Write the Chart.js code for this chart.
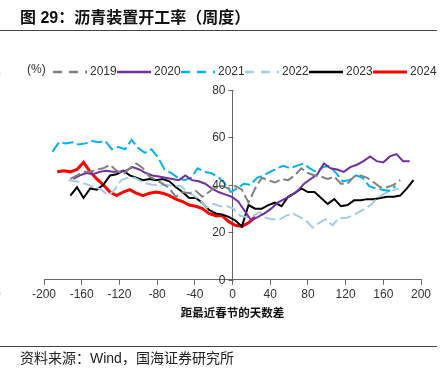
<!DOCTYPE html>
<html>
<head>
<meta charset="utf-8">
<script src="https://cdn.jsdelivr.net/npm/chart.js@4/dist/chart.umd.min.js"></script>
<style>
  body { margin: 0; background: #fff; }
  #wrap { position: relative; width: 446px; height: 375px; overflow: hidden; }
  #chart { position: absolute; left: 0; top: 0; }
  .title { position: absolute; left: 20px; top: 7px; font: bold 16px "Liberation Sans", "Noto Sans CJK SC", sans-serif; color: #111; white-space: nowrap; line-height: 22px; }
  .rule { position: absolute; left: 0; width: 437px; height: 1px; background: #444; }
  .src { position: absolute; left: 20px; top: 349px; font: 14px "Liberation Sans", "Noto Sans CJK SC", sans-serif; color: #222; white-space: nowrap; line-height: 18px; }
  .edge { position: absolute; font: 12px "Liberation Sans", sans-serif; color: #333; }
</style>
</head>
<body>
<div id="wrap">
  <canvas id="chart" width="446" height="375"></canvas>
  <div class="title">图 29：沥青装置开工率（周度）</div>
  <div class="rule" style="top:30px"></div>
  <div class="edge" style="left:-6px; top:65px; color:#00B0F0">4</div>
  <div class="edge" style="left:-6px; top:287px">0</div>
  <div class="rule" style="top:346px"></div>
  <div class="src">资料来源：Wind，国海证券研究所</div>
</div>
<script>
// days from the nearest Spring Festival, weekly readings (%)
const years = ["2019", "2020", "2021", "2022", "2023", "2024"];

const start2019 = -172;
const rate2019 = [42.5, 44, 45.5, 45.5, 46.5, 47, 48.5, 46, 44.5, 47,
  49, 47, 43.5, 42, 40.5, 38.5, 35, 37, 36.5, 37.5,
  35, 37, 39, 39.5, 38.5, 39.5, 38, 32.5, 38.5, 43,
  42, 41, 42.5, 42, 44, 47, 45, 44, 43.5, 42.5,
  43.5, 40.5, 40.5, 43.5, 44, 43, 41, 39, 39, 40, 42];

const start2020 = -169;
const rate2020 = [42.5, 44, 45, 44.5, 45.5, 46, 45.5, 45.5, 46, 47.5,
  46.5, 45, 44, 43.5, 43, 42.5, 42, 44, 42, 41.5,
  40.5, 38.5, 37, 36, 35, 33, 29, 25, 26.5, 28,
  30, 32.5, 34, 35.5, 37.5, 40.5, 42.5, 44.5, 49, 47,
  46.5, 45.5, 47.5, 48.5, 50, 52, 50, 49.5, 52, 53, 50, 50];

const start2021 = -191;
const rate2021 = [54, 58, 57.5, 58, 57, 57.5, 58.5, 58, 58.5, 55,
  56, 55, 59, 55.5, 53.5, 55, 51.5, 46.5, 45, 43,
  42, 43, 47, 45.5, 45, 43.5, 41, 37, 38.5, 40.5,
  40, 43, 44, 45.5, 47, 48, 47, 48, 49, 47,
  45.5, 47.5, 48, 45, 41.5, 42, 44, 43, 39.5, 38.5,
  38, 37.5, 39.5];

const start2022 = -174;
const rate2022 = [42, 41.5, 41, 40, 39, 38, 35.5, 38, 42, 43,
  43, 41.5, 40.5, 40, 40, 40, 39.5, 39.5, 37, 35.5,
  33.5, 30.5, 32, 31, 31, 30, 27, 26.5, 27, 28.5,
  26, 25.5, 25.5, 27, 28, 26.5, 25, 22, 24, 25.5,
  23, 26, 26, 27, 28.5, 30, 32, 35, 36.5, 37.5, 38.5];

const start2023 = -172;
const rate2023 = [35.5, 39, 34.5, 38.5, 38, 40, 44, 44.5, 46, 44,
  43, 42, 42.5, 42, 42.5, 41.5, 39, 37, 34.5, 34.5,
  32.5, 29.5, 28, 27.5, 26.5, 25, 22.5, 31.5, 30, 30,
  31.5, 32.5, 31, 35, 36.5, 38.5, 37, 37, 34.5, 32,
  34, 31, 31.5, 33.5, 33.5, 34, 34, 34.5, 35, 35,
  35.5, 38.5, 42];

const start2024 = -186;
const rate2024 = [45.5, 46, 45.5, 46.5, 49.5, 45.5, 42.5, 40, 37, 35.5,
  37, 38, 36.5, 35.5, 36.5, 37, 36.5, 35.5, 34, 33,
  31.5, 31, 30, 28, 27, 27, 24.5, 23, 22.5, 24, 26.5];

const xTicks = [-200, 200, 40];   // min, max, step
const yTicks = [0, 80, 20];

function weekly(start, values) {
  return values.map((v, i) => ({ x: start + 7 * i, y: v }));
}

const font = '"Liberation Sans", Arial, sans-serif';
Chart.defaults.font.family = font;
Chart.defaults.font.size = 12;
Chart.defaults.color = "#333";

function line(label, data, color, dashed, width) {
  return {
    label: label,
    data: data,
    borderColor: color,
    backgroundColor: color,
    borderWidth: width || 2,
    borderDash: dashed ? [11, 4] : [],
    pointRadius: 0,
    tension: 0,
    fill: false
  };
}

// legend row drawn by hand so it can start left of the plot like the original
const legendRow = {
  id: "legendRow",
  afterDraw(chart) {
    const ctx = chart.ctx;
    ctx.save();
    ctx.font = "12px " + font;
    ctx.fillStyle = "#333";
    ctx.textBaseline = "middle";
    ctx.fillText("(%)", 27, 70);
    chart.data.datasets.forEach((ds, i) => {
      const x = 53 + 64 * i;
      const y = 72;
      ctx.beginPath();
      ctx.setLineDash(ds.borderDash.length ? [9, 7] : []);
      ctx.strokeStyle = ds.borderColor;
      ctx.lineWidth = ds.borderWidth > 2 ? 3 : 2.5;
      ctx.moveTo(x, y);
      ctx.lineTo(x + 34, y);
      ctx.stroke();
      ctx.setLineDash([]);
      ctx.fillText(ds.label, x + 37, y);
    });
    ctx.restore();
  }
};

// the value axis sits at day 0; put its ticks and labels on the left side of it
const yAxisLeft = {
  id: "yAxisLeft",
  afterDraw(chart) {
    const xs = chart.scales.x;
    const ys = chart.scales.y;
    const ax = Math.round(xs.getPixelForValue(0)) + 0.5;
    const ctx = chart.ctx;
    ctx.save();
    ctx.strokeStyle = "#666";
    ctx.lineWidth = 1;
    ctx.font = "12px " + font;
    ctx.fillStyle = "#333";
    ctx.textAlign = "right";
    ctx.textBaseline = "middle";
    ys.ticks.forEach(t => {
      const y = Math.round(ys.getPixelForValue(t.value)) + 0.5;
      ctx.beginPath();
      ctx.moveTo(ax - 5, y);
      ctx.lineTo(ax, y);
      ctx.stroke();
      ctx.fillText(t.label, ax - 8, y);
    });
    ctx.restore();
  }
};

new Chart(document.getElementById("chart"), {
  type: "line",
  data: {
    datasets: [
      line(years[0], weekly(start2019, rate2019), "#808080", true),
      line(years[1], weekly(start2020, rate2020), "#7030A0", false),
      line(years[2], weekly(start2021, rate2021), "#00B0F0", true),
      line(years[3], weekly(start2022, rate2022), "#A3CDE4", true),
      line(years[4], weekly(start2023, rate2023), "#000000", false),
      line(years[5], weekly(start2024, rate2024), "#FF0000", false, 3)
    ]
  },
  options: {
    responsive: false,
    animation: false,
    layout: {
      padding: { left: 44, right: 25, top: 90, bottom: 48 }
    },
    plugins: {
      legend: { display: false },
      tooltip: { enabled: false }
    },
    scales: {
      x: {
        type: "linear",
        min: xTicks[0],
        max: xTicks[1],
        ticks: { stepSize: xTicks[2], color: "#333", padding: 3 },
        grid: { drawOnChartArea: false, tickLength: 5, color: "#666" },
        border: { color: "#666" },
        title: {
          display: true,
          text: "距最近春节的天数差",
          color: "#111",
          font: { family: '"Noto Sans CJK SC", sans-serif', size: 11.5, weight: "bold" },
          padding: { top: 1, bottom: 7 }
        }
      },
      y: {
        position: { x: 0 },
        min: yTicks[0],
        max: yTicks[1],
        ticks: { stepSize: yTicks[2], display: false },
        grid: { drawOnChartArea: false, drawTicks: false },
        border: { color: "#666" }
      }
    }
  },
  plugins: [legendRow, yAxisLeft]
});
</script>
</body>
</html>
